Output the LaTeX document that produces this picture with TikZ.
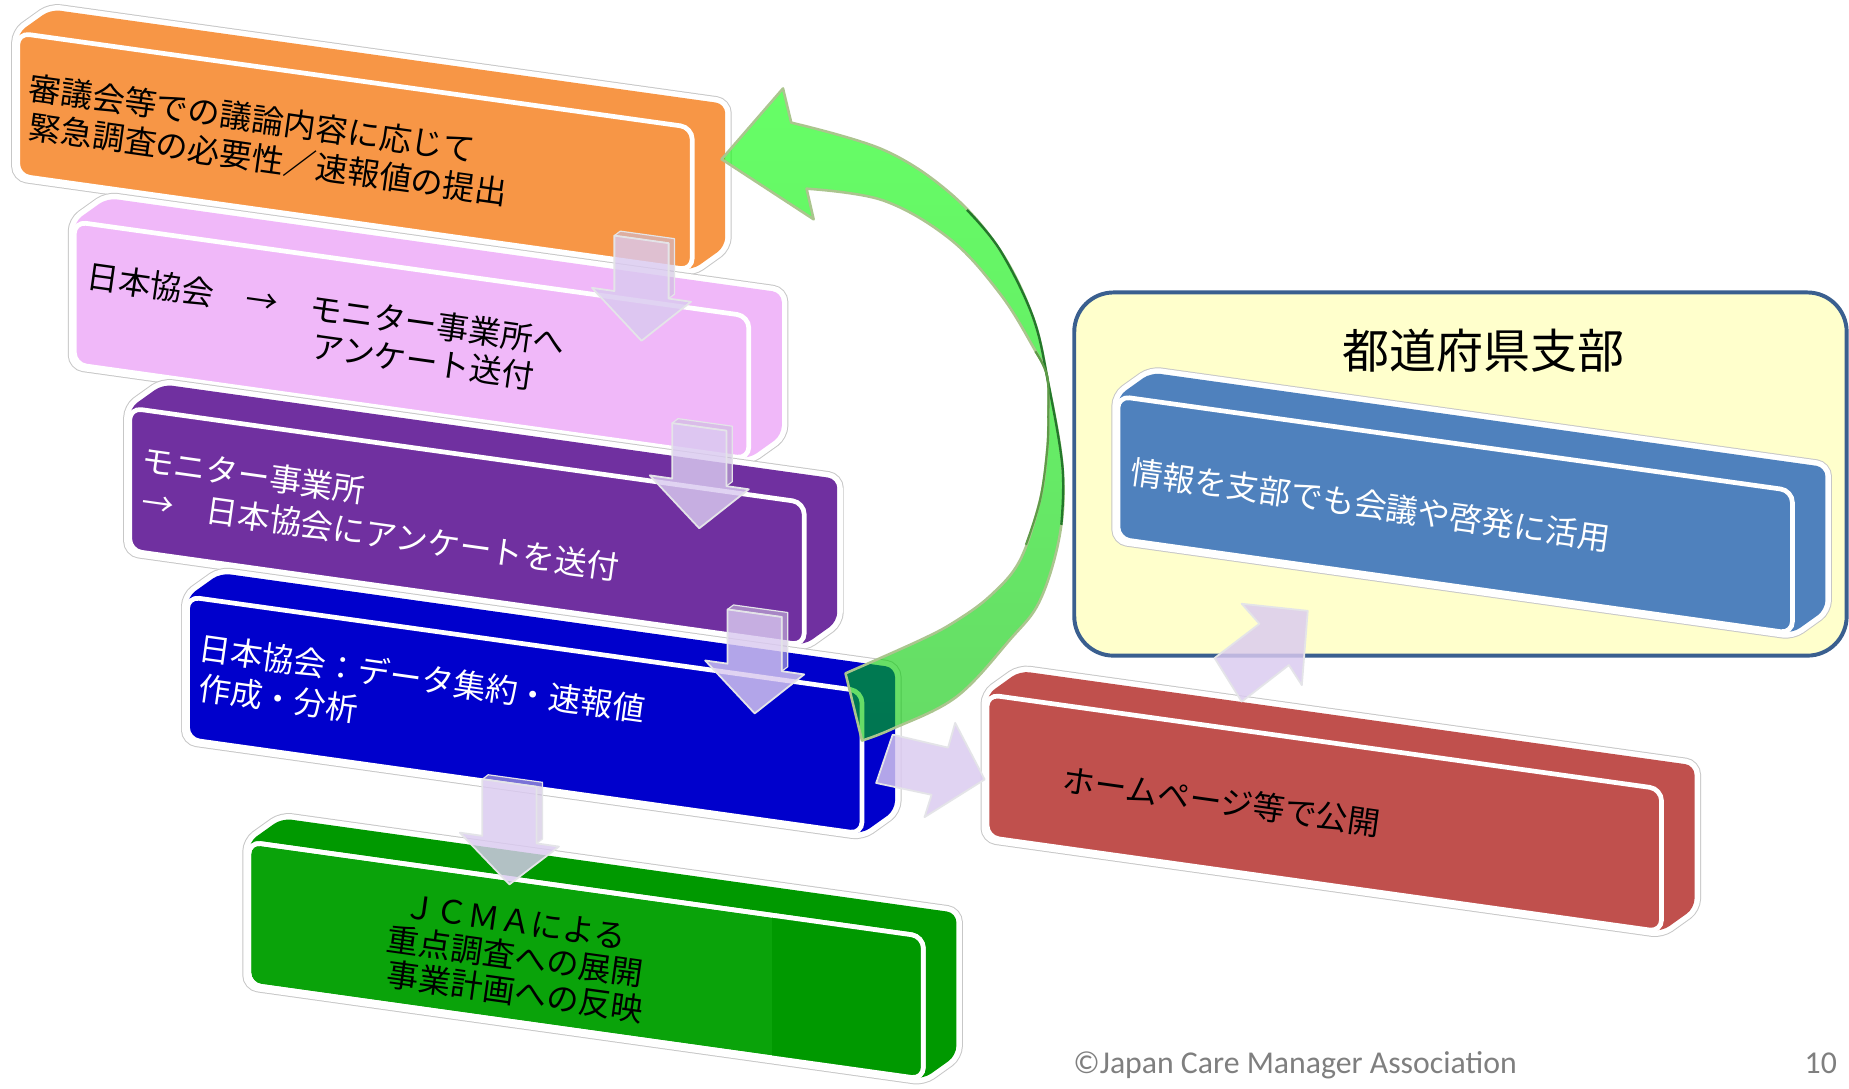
\documentclass[tikz,border=0pt]{standalone}
\usepackage{fontspec}
\newfontfamily\jpfont{Noto Sans CJK JP}
\newfontfamily\footfont{Carlito}
\usetikzlibrary{calc}
\definecolor{cOrange}{HTML}{F79646}
\definecolor{cPink}{HTML}{F0B8F9}
\definecolor{cPurple}{HTML}{7030A0}
\definecolor{cBlue}{HTML}{0000CC}
\definecolor{cGreen}{HTML}{009900}
\definecolor{cGreenF}{HTML}{0AA30A}
\definecolor{cSteel}{HTML}{4F81BD}
\definecolor{cRed}{HTML}{C0504D}
\definecolor{cYellow}{HTML}{FFFFCC}
\definecolor{cYellowEdge}{HTML}{3A5F8F}
\definecolor{cArrow}{HTML}{DACAF0}
\definecolor{cArrowEdge}{HTML}{E4E4E8}
\definecolor{cLoopTop}{HTML}{00FF00}
\definecolor{cLoopBot}{HTML}{00C400}
\definecolor{cLoopEdge}{HTML}{ABC58E}
\definecolor{cLoopDark}{HTML}{22782A}
\definecolor{cLoopMid}{HTML}{5E9A48}
\definecolor{cFoot}{HTML}{7F7F7F}
\tikzset{
  boxhalo/.style={draw=black!22, line width=3.3mm, rounded corners=2.4mm},
  boxwhite/.style={draw=white, line width=2.8mm, rounded corners=2.4mm},
  boxbody/.style={rounded corners=2.4mm},
  frontface/.style={draw=white, line width=1.2mm, rounded corners=3mm},
  jptext/.style={font=\jpfont\fontsize{23.3}{28}\selectfont, inner sep=0pt, anchor=base west, rotate=-8},
  blockarrow/.style={fill=cArrow, fill opacity=0.82, draw=cArrowEdge, line width=0.45mm, line join=round},
  arrowside/.style={fill=cArrow!85!gray, fill opacity=0.6, draw=cArrowEdge, line width=0.3mm, line join=round},
  loop/.style={top color=cLoopTop, bottom color=cLoopBot, shading angle=0, fill opacity=0.6, draw=cLoopEdge, line width=0.65mm, line join=round},
}
% 3D box: #1 name, #2 colour, #3 front colour, #4 left x, #5 top-left y
\newcommand{\tdbox}[5]{%
  \pgfmathsetmacro{\tdR}{#4+572}%
  \pgfmathsetmacro{\tdRt}{#5+0.14*572}%
  \pgfmathsetmacro{\tdRb}{#5+0.14*572+121}%
  \pgfmathsetmacro{\tdLb}{#5+121}%
  \coordinate (#1-ftl) at (#4,#5);
  \coordinate (#1-ftr) at (\tdR,\tdRt);
  \coordinate (#1-fbr) at (\tdR,\tdRb);
  \coordinate (#1-fbl) at (#4,\tdLb);
  \coordinate (#1-btl) at ($(#1-ftl)+(28,-20)$);
  \coordinate (#1-btr) at ($(#1-ftr)+(28,-20)$);
  \coordinate (#1-bbr) at ($(#1-fbr)+(28,-20)$);
  \draw[boxhalo] (#1-fbl) -- (#1-ftl) -- (#1-btl) -- (#1-btr) -- (#1-bbr) -- (#1-fbr) -- cycle;
  \draw[boxwhite] (#1-fbl) -- (#1-ftl) -- (#1-btl) -- (#1-btr) -- (#1-bbr) -- (#1-fbr) -- cycle;
  \fill[boxbody, #2] (#1-fbl) -- (#1-ftl) -- (#1-btl) -- (#1-btr) -- (#1-bbr) -- (#1-fbr) -- cycle;
  \draw[frontface, fill=#3] (#1-ftl) -- (#1-ftr) -- (#1-fbr) -- (#1-fbl) -- cycle;
}
% down block arrow: #1 cx, #2 top y, #3 head base y, #4 tip y
\newcommand{\dnarrow}[4]{%
  \draw[arrowside] (#1-23,#2-3.2) -- (#1-18,#2-7) -- (#1+28,#2-0.6) -- (#1+28,#3-0.5) -- (#1+23,#3+3.2) -- (#1+23,#2+3.2) -- cycle;
  \draw[blockarrow] (#1-23,#2-3.2) -- (#1+23,#2+3.2) -- (#1+23,#3+3.2) -- (#1+42,#3+5.9) -- (#1,#4) -- (#1-42,#3-5.9) -- (#1-23,#3-3.2) -- cycle;
}
\begin{document}
\begin{tikzpicture}[x=0.3mm,y=-0.3mm]
\useasboundingbox (0,0) rectangle (1568,923);
\fill[white] (0,0) rectangle (1568,923);

% ---------- left stack ----------
\tdbox{orange}{cOrange}{cOrange}{15}{28}
\tdbox{pink}{cPink}{cPink}{63}{188}
\tdbox{purple}{cPurple}{cPurple}{110}{346}
\tdbox{blue}{cBlue}{cBlue}{159}{506}
\tdbox{green}{cGreen}{cGreenF}{211}{714}
\begin{scope}
  \clip[rounded corners=3mm] (green-ftl) -- (green-ftr) -- (green-fbr) -- (green-fbl) -- cycle;
  \fill[cGreen] (655,700) rectangle (800,950);
\end{scope}
\draw[frontface] (green-ftl) -- (green-ftr) -- (green-fbr) -- (green-fbl) -- cycle;

\node[jptext] (o1) at (23,84) {審議会等での議論内容に応じて};
\node[jptext] (o2) at (23,117) {緊急調査の必要性／速報値の提出};
\node[jptext] (p1) at (72,244) {日本協会　→　モニター事業所へ};
\node[jptext] (p2) at (263,303) {アンケート送付};
\node[jptext, text=white] (u1) at (119,400) {モニター事業所};
\node[jptext, text=white] (u2) at (119,435) {→　日本協会にアンケートを送付};
\node[jptext, text=white] (b1) at (167,559) {日本協会：データ集約・速報値};
\node[jptext, text=white] (b2) at (167,593) {作成・分析};
\node[jptext] (g1) at (341,778) {ＪＣＭＡによる};
\node[jptext] (g2) at (327,806) {重点調査への展開};
\node[jptext] (g3) at (327,836) {事業計画への反映};

% down arrows
\dnarrow{544}{203}{250}{289}
\dnarrow{593}{362}{409}{448}
\dnarrow{640}{520}{566}{605}
\dnarrow{432}{664}{712}{750}

% ---------- right side ----------
\draw[fill=cYellow, draw=cYellowEdge, line width=1mm, rounded corners=10mm] (911,248) rectangle (1566,556);
\node[font=\jpfont\fontsize{34}{40}\selectfont, inner sep=0pt] (title) at (1258,297) {都道府県支部};
\tdbox{steel}{cSteel}{cSteel}{948}{336}
\node[jptext, text=white] (s1) at (958,410) {情報を支部でも会議や啓発に活用};

\tdbox{red}{cRed}{cRed}{837}{589}
\node[jptext] (r1) at (900,671) {ホームページ等で公開};

% up-right arrow (red -> prefecture)
\draw[blockarrow] (1053,595) -- (1030,558) -- (1068,529) -- (1053,512) -- (1109,518) -- (1104,581) -- (1093,564) -- cycle;

% ---------- green loop arrow ----------
\path[loop] (612,135) -- (664,75) -- (671,104)
  -- plot[smooth, tension=0.6] coordinates {(671,104) (749,127) (806,164) (848,212) (876,269) (889,325) (901,396) (899,452) (882,509) (856,543) (811,591) (757,618) (731,628)}
  -- (717,571)
  -- plot[smooth, tension=0.6] coordinates {(717,571) (780,543) (810,527) (840,505) (865,475) (882,424) (888,382) (889,353) (888,319) (876,294) (848,249) (806,203) (749,170) (684,160)}
  -- (690,186) -- cycle;
\draw[cLoopDark, line width=0.6mm] plot[smooth, tension=0.6] coordinates {(820,178) (848,212) (876,269) (889,325) (901,396) (900,445)};
\draw[cLoopMid, line width=0.55mm] plot[smooth, tension=0.6] coordinates {(878,298) (888,319) (889,353) (888,382) (882,424) (870,462)};

% right arrow (blue -> red)
\draw[blockarrow] (757,623) -- (804,634) -- (810,613) -- (835,661) -- (784,693) -- (790,674) -- (743,664) -- cycle;

% ---------- footer ----------
\node[font=\footfont\fontsize{23}{28}\selectfont, text=cFoot, inner sep=0pt, anchor=base west] (foot) at (910,910) {©Japan Care Manager Association};
\node[font=\footfont\fontsize{23}{28}\selectfont, text=cFoot, inner sep=0pt, anchor=base east] (page) at (1558,910) {10};
\end{tikzpicture}
\end{document}
